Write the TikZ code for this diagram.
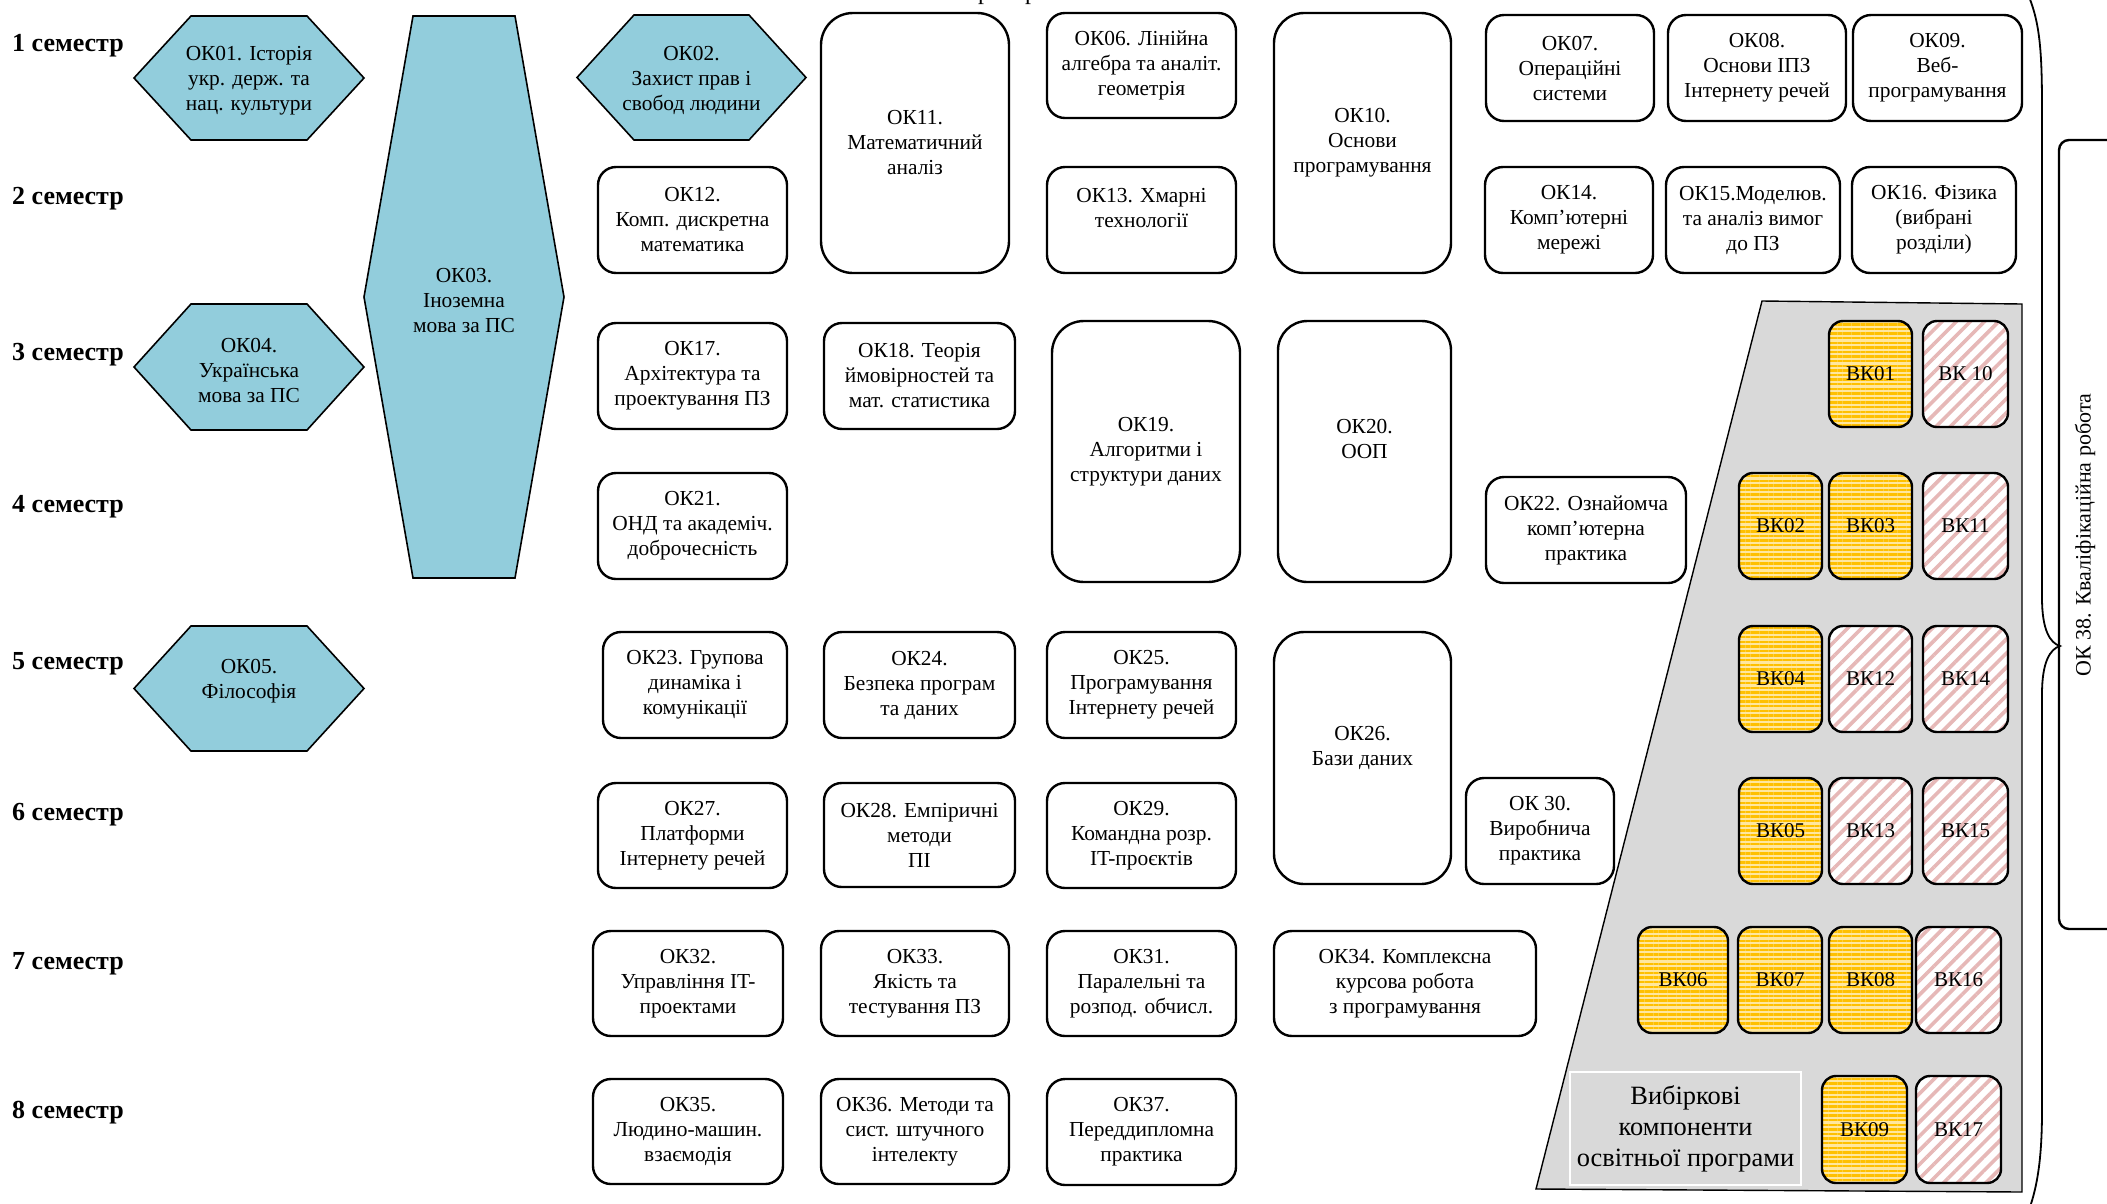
\documentclass[tikz,border=0pt]{standalone}
\usepackage{fontspec}
\setmainfont{Liberation Serif}
\usetikzlibrary{patterns.meta}
\definecolor{hexblue}{HTML}{92CDDC}
\definecolor{goldst}{HTML}{FFC000}
\definecolor{paleyel}{HTML}{FFE79E}
\definecolor{pinkst}{HTML}{E6B8B7}
\definecolor{graybg}{HTML}{D9D9D9}
\newcommand\okfont{\fontsize{21.4}{25}\selectfont}
\newcommand\semfont{\fontsize{26}{30}\selectfont\bfseries}
\newcommand\vkfont{\fontsize{21}{25}\selectfont}
\newcommand\lblfont{\fontsize{26.4}{31}\selectfont}
\newcommand\okbox[6]{%
  \pgfmathsetmacro\bw{#4-#2}\pgfmathsetmacro\bh{#5-#3}%
  \pgfmathsetmacro\br{0.17*min(\bw,\bh)}%
  \node[okb, minimum width=\bw pt, minimum height=\bh pt, rounded corners=\br pt]
    (#1) at ({(#2+#4)/2},{(#3+#5)/2}) {#6};}
\newcommand\vkbox[7]{%
  \pgfmathsetmacro\bw{#4-#2}\pgfmathsetmacro\bh{#5-#3}%
  \node[vkb, #7, minimum width=\bw pt, minimum height=\bh pt]
    (#1) at ({(#2+#4)/2},{(#3+#5)/2}) {#6};}
\newcommand\hexbox[7]{%
  \draw[hexa] (#2,{(#3+#5)/2}) -- ({#2+#6},#3) -- ({#4-#6},#3) -- (#4,{(#3+#5)/2})
    -- ({#4-#6},#5) -- ({#2+#6},#5) -- cycle;
  \node[hextext] (#1) at ({(#2+#4)/2},{(#3+#5)/2+3}) {#7};}
\begin{document}
\begin{tikzpicture}[x=1pt,y=-1pt,
  okb/.style={draw, line width=2.4pt, align=center, font=\okfont, inner sep=1pt},
  vkb/.style={draw, line width=2.4pt, font=\vkfont, inner sep=1pt, rounded corners=14pt},
  yel/.style={preaction={fill=paleyel}, pattern={Lines[angle=0,distance=4.6pt,line width=2.3pt]}, pattern color=goldst},
  pnk/.style={preaction={fill=white}, pattern={Lines[angle=45,distance=10pt,line width=3.6pt]}, pattern color=pinkst},
  hexa/.style={draw, line width=1.6pt, fill=hexblue},
  hextext/.style={align=center, font=\okfont, inner sep=1pt},
  sem/.style={anchor=west, font=\semfont, inner sep=0pt}]
\useasboundingbox (0,0) rectangle (2107,1203);

% cut-off title fragments
\node[anchor=base, font=\fontsize{24}{28}\selectfont, inner sep=0pt] (tfa) at (984,-1) {р};
\node[anchor=base, font=\fontsize{24}{28}\selectfont, inner sep=0pt] (tfb) at (1031,-1) {р};

% semester labels
\node[sem] (s1) at (12,46) {1 семестр};
\node[sem] (s2) at (12,199) {2 семестр};
\node[sem] (s3) at (12,355) {3 семестр};
\node[sem] (s4) at (12,507) {4 семестр};
\node[sem] (s5) at (12,664) {5 семестр};
\node[sem] (s6) at (12,815) {6 семестр};
\node[sem] (s7) at (12,964) {7 семестр};
\node[sem] (s8) at (12,1113) {8 семестр};

% hexagons
\hexbox{ok01}{134}{16}{364}{140}{57}{ОК01. Історія\\укр. держ. та\\нац. культури}
\hexbox{ok02}{577}{15}{806}{140}{57}{ОК02.\\Захист прав і\\свобод людини}
\hexbox{ok04}{134}{304}{364}{430}{57}{ОК04.\\Українська\\мова за ПС}
\hexbox{ok05}{134}{626}{364}{751}{57}{ОК05.\\Філософія\\\mbox{}}
\hexbox{ok03}{364}{16}{564}{578}{49}{ОК03.\\Іноземна\\мова за ПС}

% gray elective area
\draw[fill=graybg, line width=1.4pt] (1762,301) -- (2022,304) -- (2022,1192) -- (1536,1189) -- cycle;
\node[draw=white, line width=1.6pt, fill=graybg, minimum width=231pt, minimum height=113pt,
  align=center, font=\lblfont, inner sep=0pt] (lbl) at (1685.5,1128.5)
  {Вибіркові\\компоненти\\освітньої програми};

% rounded boxes
\okbox{ok11}{821}{13}{1009}{273}{ОК11.\\Математичний\\аналіз}
\okbox{ok06}{1047}{13}{1236}{118}{ОК06. Лінійна\\алгебра та аналіт.\\геометрія}
\okbox{ok10}{1274}{13}{1451}{273}{ОК10.\\Основи\\програмування}
\okbox{ok07}{1486}{15}{1654}{121}{ОК07.\\Операційні\\системи}
\okbox{ok08}{1668}{15}{1846}{121}{ОК08.\\Основи ІПЗ\\Інтернету речей}
\okbox{ok09}{1853}{15}{2022}{121}{ОК09.\\Веб-\\програмування}
\okbox{ok12}{598}{167}{787}{273}{ОК12.\\Комп. дискретна\\математика}
\okbox{ok13}{1047}{167}{1236}{273}{ОК13. Хмарні\\технології\\\mbox{}}
\okbox{ok14}{1485}{167}{1653}{273}{ОК14.\\Комп’ютерні\\мережі}
\okbox{ok15}{1666}{167}{1840}{273}{ОК15.Моделюв.\\та аналіз вимог\\до ПЗ}
\okbox{ok16}{1852}{167}{2016}{273}{ОК16. Фізика\\(вибрані\\розділи)}
\okbox{ok17}{598}{323}{787}{429}{ОК17.\\Архітектура та\\проектування ПЗ}
\okbox{ok18}{824}{323}{1015}{429}{ОК18. Теорія\\ймовірностей та\\мат. статистика}
\okbox{ok19}{1052}{321}{1240}{582}{ОК19.\\Алгоритми і\\структури даних}
\okbox{ok20}{1278}{321}{1451}{582}{ОК20.\\ООП\\\mbox{}}
\okbox{ok21}{598}{473}{787}{579}{ОК21.\\ОНД та академіч.\\доброчесність}
\okbox{ok22}{1486}{477}{1686}{583}{ОК22. Ознайомча\\комп’ютерна\\практика}
\okbox{ok23}{603}{632}{787}{738}{ОК23. Групова\\динаміка і\\комунікації}
\okbox{ok24}{824}{632}{1015}{738}{ОК24.\\Безпека програм\\та даних}
\okbox{ok25}{1047}{632}{1236}{738}{ОК25.\\Програмування\\Інтернету речей}
\okbox{ok26}{1274}{632}{1451}{884}{ОК26.\\Бази даних\\\mbox{}}
\okbox{ok27}{598}{783}{787}{888}{ОК27.\\Платформи\\Інтернету речей}
\okbox{ok28}{824}{783}{1015}{887}{ОК28. Емпіричні\\методи\\ПІ}
\okbox{ok29}{1047}{783}{1236}{888}{ОК29.\\Командна розр.\\IT-проєктів}
\okbox{ok30}{1466}{778}{1614}{884}{ОК 30.\\Виробнича\\практика}
\okbox{ok32}{593}{931}{783}{1036}{ОК32.\\Управління IT-\\проектами}
\okbox{ok33}{821}{931}{1009}{1036}{ОК33.\\Якість та\\тестування ПЗ}
\okbox{ok31}{1047}{931}{1236}{1036}{ОК31.\\Паралельні та\\розпод. обчисл.}
\okbox{ok34}{1274}{931}{1536}{1036}{ОК34. Комплексна\\курсова робота\\з програмування}
\okbox{ok35}{593}{1079}{783}{1184}{ОК35.\\Людино-машин.\\взаємодія}
\okbox{ok36}{821}{1079}{1009}{1184}{ОК36. Методи та\\сист. штучного\\інтелекту}
\okbox{ok37}{1047}{1079}{1236}{1185}{ОК37.\\Переддипломна\\практика}

% elective boxes
\vkbox{bk01}{1829}{321}{1912}{427}{ВК01}{yel}
\vkbox{bk10}{1923}{321}{2008}{427}{ВК 10}{pnk}
\vkbox{bk02}{1739}{473}{1822}{579}{ВК02}{yel}
\vkbox{bk03}{1829}{473}{1912}{579}{ВК03}{yel}
\vkbox{bk11}{1923}{473}{2008}{579}{ВК11}{pnk}
\vkbox{bk04}{1739}{626}{1822}{732}{ВК04}{yel}
\vkbox{bk12}{1829}{626}{1912}{732}{ВК12}{pnk}
\vkbox{bk14}{1923}{626}{2008}{732}{ВК14}{pnk}
\vkbox{bk05}{1739}{778}{1822}{884}{ВК05}{yel}
\vkbox{bk13}{1829}{778}{1912}{884}{ВК13}{pnk}
\vkbox{bk15}{1923}{778}{2008}{884}{ВК15}{pnk}
\vkbox{bk06}{1638}{927}{1728}{1033}{ВК06}{yel}
\vkbox{bk07}{1738}{927}{1822}{1033}{ВК07}{yel}
\vkbox{bk08}{1829}{927}{1912}{1033}{ВК08}{yel}
\vkbox{bk16}{1916}{927}{2001}{1033}{ВК16}{pnk}
\vkbox{bk09}{1822}{1076}{1907}{1183}{ВК09}{yel}
\vkbox{bk17}{1916}{1076}{2001}{1183}{ВК17}{pnk}

% brace
\coordinate (brtop) at (2026,-10);
\coordinate (brtip) at (2060,646);
\coordinate (brbot) at (2027,1215);
\draw[line width=1.8pt] (brtop) .. controls (2040,20) and (2042,50) .. (2042,110)
  -- (2042,598) .. controls (2042,630) and (2050,643) .. (brtip)
  .. controls (2050,649) and (2042,662) .. (2042,694)
  -- (2042,1110) .. controls (2042,1160) and (2037,1190) .. (brbot);

% OK38 box
\draw[line width=2.4pt, rounded corners=10pt] (2130,140) -- (2059,140) -- (2059,929) -- (2130,929);
\node[rotate=90, font=\fontsize{22}{26}\selectfont, inner sep=0pt] (ok38) at (2085,535) {ОК 38. Кваліфікаційна робота};
\end{tikzpicture}
\end{document}
